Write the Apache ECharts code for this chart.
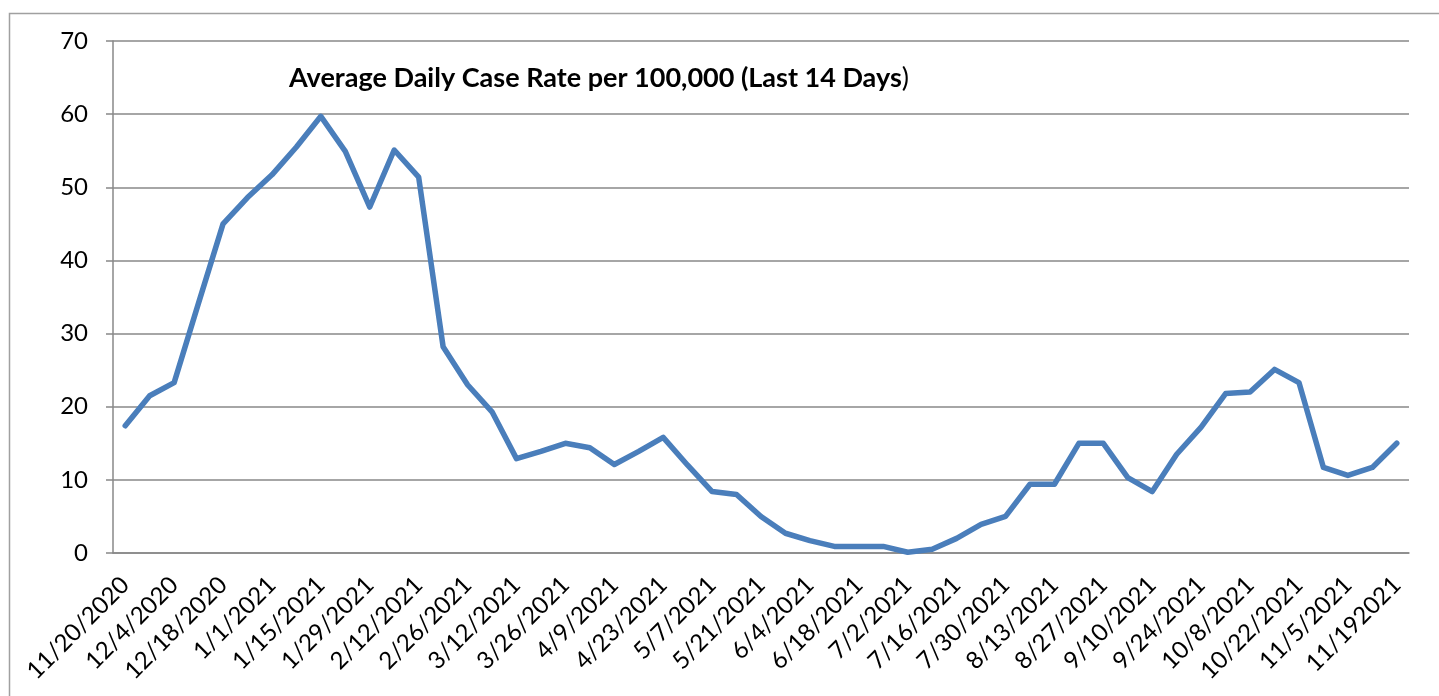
<!DOCTYPE html>
<html>
<head>
<meta charset="utf-8">
<title>Average Daily Case Rate</title>
<script src="https://cdn.jsdelivr.net/npm/echarts@6/dist/echarts.min.js"></script>
<style>
    html, body { margin: 0; padding: 0; background: #fff; }
    #chart { width: 1439px; height: 696px; }
</style>
</head>
<body>
<div id="chart"></div>
<script>
// weekly report dates (last one typed as in the original sheet)
var weekDates = [
    "11/20/2020", "11/27/2020", "12/4/2020", "12/11/2020", "12/18/2020", "12/25/2020",
    "1/1/2021", "1/8/2021", "1/15/2021", "1/22/2021", "1/29/2021", "2/5/2021",
    "2/12/2021", "2/19/2021", "2/26/2021", "3/5/2021", "3/12/2021", "3/19/2021",
    "3/26/2021", "4/2/2021", "4/9/2021", "4/16/2021", "4/23/2021", "4/30/2021",
    "5/7/2021", "5/14/2021", "5/21/2021", "5/28/2021", "6/4/2021", "6/11/2021",
    "6/18/2021", "6/25/2021", "7/2/2021", "7/9/2021", "7/16/2021", "7/23/2021",
    "7/30/2021", "8/6/2021", "8/13/2021", "8/20/2021", "8/27/2021", "9/3/2021",
    "9/10/2021", "9/17/2021", "9/24/2021", "10/1/2021", "10/8/2021", "10/15/2021",
    "10/22/2021", "10/29/2021", "11/5/2021", "11/12/2021", "11/192021"
];

// average daily case rate per 100,000
var caseRate = [
    17.4, 21.5, 23.3, 34.2, 45.0, 48.6, 51.7, 55.5, 59.7, 54.9,
    47.3, 55.1, 51.4, 28.2, 23.0, 19.3, 12.9, 13.9, 15.0, 14.4,
    12.1, 13.9, 15.8, 12.0, 8.4, 8.0, 5.0, 2.7, 1.7, 0.9,
    0.9, 0.9, 0.1, 0.5, 2.0, 3.9, 5.0, 9.4, 9.4, 15.0,
    15.0, 10.3, 8.4, 13.5, 17.2, 21.8, 22.0, 25.1, 23.3, 11.7,
    10.6, 11.7, 15.0
];

var yTicks = { min: 0, max: 70, step: 10 };

var gray = "#888888";
var font = "Lato, 'Open Sans', sans-serif";

var myChart = echarts.init(document.getElementById("chart"));

var option = {
    animation: false,
    backgroundColor: "#fff",
    title: {
        text: "{b|Average Daily Case Rate per 100,000 (Last 14 Days}{n|)}",
        left: 289,
        top: 65,
        padding: 0,
        textStyle: {
            rich: {
                b: { fontFamily: font, fontWeight: "bold", fontSize: 27, color: "#000" },
                n: { fontFamily: font, fontWeight: "normal", fontSize: 27, color: "#000" }
            }
        }
    },
    graphic: [
        {
            // chart area border
            type: "rect",
            left: 7,
            top: 11,
            shape: { width: 1500, height: 800 },
            style: { fill: "none", stroke: "#a0a0a0", lineWidth: 1.5 },
            silent: true
        }
    ],
    grid: {
        left: 113,
        right: 30,
        top: 41,
        bottom: 143
    },
    xAxis: {
        type: "category",
        data: weekDates,
        boundaryGap: true,
        axisLine: { lineStyle: { color: gray, width: 1.5 } },
        axisTick: {
            interval: 0,
            length: 8,
            lineStyle: { color: gray, width: 1.5 }
        },
        axisLabel: {
            interval: 1,
            rotate: 45,
            margin: 28,
            fontFamily: font,
            fontSize: 24,
            color: "#000"
        },
        splitLine: { show: false }
    },
    yAxis: {
        type: "value",
        min: yTicks.min,
        max: yTicks.max,
        interval: yTicks.step,
        axisLine: { show: true, lineStyle: { color: gray, width: 1.5 } },
        axisTick: { show: true, length: 7, lineStyle: { color: gray, width: 1.5 } },
        axisLabel: {
            margin: 25,
            fontFamily: font,
            fontSize: 24,
            color: "#000"
        },
        splitLine: { lineStyle: { color: gray, width: 1.5 } }
    },
    series: [
        {
            name: "Average Daily Case Rate",
            type: "line",
            data: caseRate,
            symbol: "none",
            lineStyle: { color: "#4a7ebb", width: 5.5, join: "round", cap: "round" },
            itemStyle: { color: "#4a7ebb" }
        }
    ]
};

myChart.setOption(option);
</script>
</body>
</html>
